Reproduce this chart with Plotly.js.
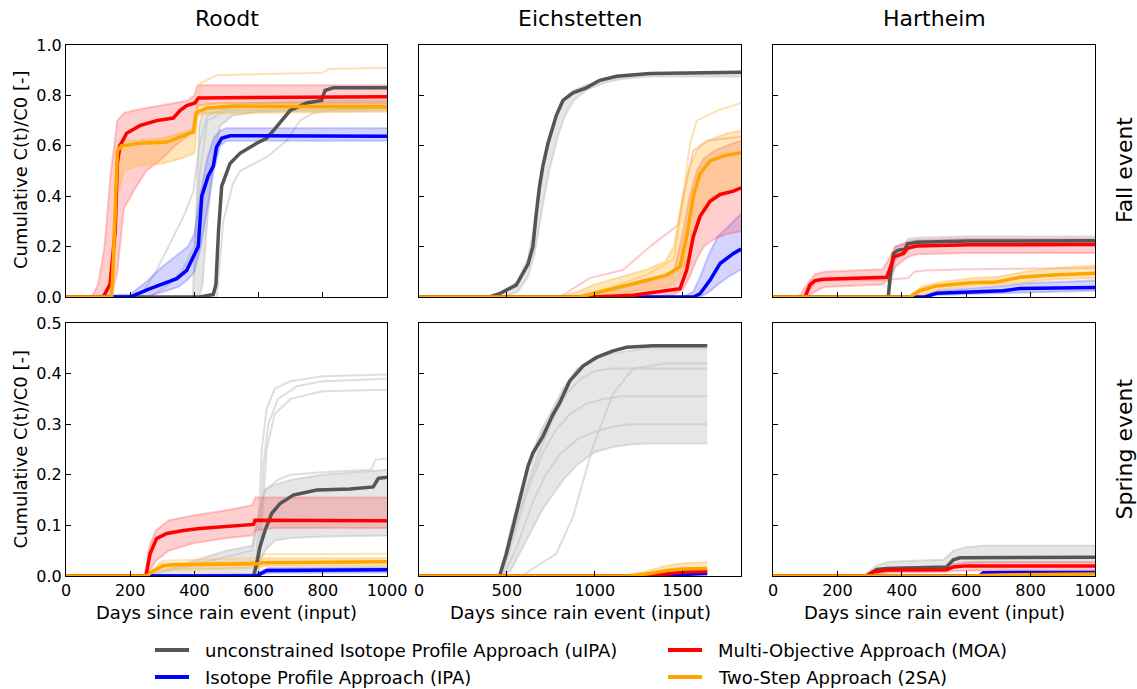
<!DOCTYPE html>
<html><head><meta charset="utf-8">
<script src="https://cdn.plot.ly/plotly-3.0.1.min.js"></script>
<style>html,body{margin:0;padding:0;background:#fff}</style>
</head><body><div id="chart" style="width:1137px;height:689px"></div>
<script>
// ---------------- DATA ----------------
const columnTitles = ['Roodt', 'Eichstetten', 'Hartheim'];
const rowTitles = ['Fall event', 'Spring event'];
const methodNames = ['unconstrained Isotope Profile Approach (uIPA)', 'Isotope Profile Approach (IPA)', 'Multi-Objective Approach (MOA)', 'Two-Step Approach (2SA)'];
const xTicksShort = [0, 200, 400, 600, 800, 1000];
const xTicksLong = [0, 500, 1000, 1500];

// Roodt - fall
const rfUipaDays = [0,417,459,467,475,485,511,542,594,625,646,698,750,796,807,833,1000];
const rfUipa     = [0,0,0.01,0.05,0.26,0.44,0.53,0.57,0.61,0.63,0.66,0.74,0.77,0.78,0.82,0.83,0.83];
const rfUipaBandDays = [0,395,405,415,425,440,460,480,520,600,800,1000];
const rfUipaHi   = [0,0,0.3,0.68,0.73,0.745,0.75,0.76,0.765,0.77,0.78,0.78];
const rfUipaLo   = [0,0,0,0,0.05,0.3,0.55,0.68,0.72,0.735,0.74,0.74];
const rfUipaEx1Days = [0,230,280,334,370,397,415,440,500,1000];
const rfUipaEx1  = [0,0,0.1,0.24,0.33,0.42,0.6,0.72,0.75,0.76];
const rfUipaEx2Days = [0,260,320,360,400,418,440,500,1000];
const rfUipaEx2  = [0,0,0.05,0.1,0.2,0.5,0.7,0.74,0.75];
const rfUipaEx3Days = [0,470,490,520,542,625,687,729,770,850,1000];
const rfUipaEx3  = [0,0,0.3,0.45,0.5,0.555,0.62,0.7,0.73,0.745,0.75];
const rfIpaDays  = [0,199,262,345,376,402,412,423,443,459,469,485,511,1000];
const rfIpa      = [0,0,0.033,0.073,0.106,0.17,0.2,0.4,0.48,0.52,0.595,0.63,0.64,0.638];
const rfIpaBandDays = [0,200,250,300,350,380,400,420,440,460,480,500,1000];
const rfIpaHi    = [0,0.01,0.06,0.12,0.17,0.2,0.25,0.42,0.55,0.63,0.66,0.67,0.67];
const rfIpaLo    = [0,0,0,0.02,0.04,0.07,0.1,0.2,0.35,0.5,0.6,0.62,0.62];
const rfMoaDays  = [0,116,137,153,160,168,189,230,282,334,355,376,402,412,1000];
const rfMoa      = [0,0,0.05,0.26,0.53,0.6,0.65,0.68,0.70,0.71,0.74,0.76,0.77,0.79,0.795];
const rfMoaBandDays = [0,80,100,120,140,160,180,210,250,300,340,380,400,410,500,1000];
const rfMoaHi    = [0,0,0.05,0.2,0.5,0.7,0.73,0.74,0.75,0.76,0.77,0.78,0.8,0.84,0.84,0.84];
const rfMoaLo    = [0,0,0,0,0,0.1,0.35,0.42,0.5,0.55,0.6,0.64,0.68,0.76,0.77,0.77];
const rfTsaDays  = [0,142,147,156,160,173,231,314,355,397,405,438,521,1000];
const rfTsa      = [0,0,0.13,0.40,0.58,0.60,0.61,0.615,0.635,0.655,0.73,0.75,0.757,0.755];
const rfTsaBandDays = [0,140,150,160,180,220,300,360,400,410,440,1000];
const rfTsaHi    = [0,0,0.3,0.6,0.62,0.62,0.63,0.65,0.67,0.76,0.77,0.77];
const rfTsaLo    = [0,0,0.1,0.4,0.5,0.52,0.53,0.55,0.57,0.72,0.73,0.735];
const rfTsaEx1Days = [0,140,160,180,300,400,420,470,800,820,1000];
const rfTsaEx1   = [0,0,0.55,0.6,0.63,0.66,0.85,0.88,0.89,0.905,0.91];

// Eichstetten - fall
const efUipaDays = [0,401,458,553,620,648,667,686,705,734,781,819,876,952,1028,1124,1313,1832];
const efUipa     = [0,0,0.013,0.047,0.13,0.2,0.33,0.44,0.52,0.61,0.72,0.78,0.81,0.83,0.86,0.876,0.887,0.892];
const efUipaBandDays = [0,420,470,560,620,660,700,740,790,830,880,950,1050,1150,1300,1832];
const efUipaHi   = [0,0,0.02,0.06,0.15,0.3,0.5,0.63,0.74,0.79,0.82,0.84,0.86,0.875,0.885,0.89];
const efUipaLo   = [0,0,0,0.02,0.08,0.18,0.35,0.5,0.64,0.72,0.78,0.82,0.85,0.865,0.875,0.875];
const efIpaDays  = [0,1561,1599,1656,1713,1789,1832];
const efIpa      = [0,0,0.013,0.067,0.133,0.173,0.19];
const efIpaBandDays = [0,1500,1560,1600,1650,1700,1760,1832];
const efIpaHi    = [0,0,0.02,0.08,0.17,0.24,0.28,0.33];
const efIpaLo    = [0,0,0,0,0.02,0.05,0.08,0.11];
const efMoaDays  = [0,990,1218,1485,1523,1561,1599,1656,1713,1789,1832];
const efMoa      = [0,0,0.007,0.033,0.107,0.24,0.32,0.38,0.407,0.42,0.433];
const efMoaBandDays = [0,900,1100,1300,1450,1500,1540,1580,1620,1680,1750,1832];
const efMoaHi    = [0,0,0.03,0.06,0.1,0.25,0.4,0.5,0.55,0.58,0.6,0.62];
const efMoaLo    = [0,0,0,0,0.01,0.03,0.08,0.15,0.2,0.23,0.25,0.26];
const efMoaEx1Days = [0,800,971,1160,1314,1474,1523,1561,1637,1832];
const efMoaEx1   = [0,0,0.075,0.107,0.2,0.286,0.46,0.58,0.62,0.636];
const efTsaDays  = [0,915,1028,1218,1409,1485,1523,1561,1599,1656,1732,1832];
const efTsa      = [0,0,0.02,0.053,0.087,0.12,0.24,0.40,0.49,0.54,0.56,0.573];
const efTsaBandDays = [0,780,900,1000,1100,1200,1300,1400,1450,1500,1540,1580,1620,1680,1750,1832];
const efTsaHi    = [0,0,0.02,0.05,0.07,0.09,0.11,0.14,0.2,0.4,0.52,0.58,0.61,0.63,0.65,0.66];
const efTsaLo    = [0,0,0,0,0.01,0.02,0.03,0.04,0.05,0.1,0.2,0.3,0.36,0.4,0.42,0.43];
const efTsaEx1Days = [0,900,1100,1300,1450,1500,1540,1580,1640,1700,1832];
const efTsaEx1   = [0,0,0.04,0.09,0.15,0.38,0.6,0.7,0.72,0.74,0.77];

// Hartheim - fall
const hfUipaDays = [0,358,365,374,389,410,417,445,612,1000];
const hfUipa     = [0,0,0.094,0.173,0.186,0.19,0.21,0.217,0.222,0.223];
const hfUipaBandDays = [0,355,365,380,410,420,450,600,1000];
const hfUipaHi   = [0,0,0.12,0.2,0.21,0.23,0.235,0.24,0.24];
const hfUipaLo   = [0,0,0.05,0.15,0.17,0.19,0.2,0.205,0.205];
const hfIpaDays  = [0,472,508,612,715,767,1000];
const hfIpa      = [0,0,0.015,0.021,0.025,0.034,0.038];
const hfIpaBandDays = [0,460,510,620,720,780,1000];
const hfIpaHi    = [0,0,0.025,0.035,0.045,0.055,0.065];
const hfIpaLo    = [0,0,0.008,0.012,0.016,0.02,0.025];
const hfMoaDays  = [0,99,115,130,156,353,365,376,405,417,445,612,1000];
const hfMoa      = [0,0,0.048,0.065,0.07,0.078,0.12,0.16,0.173,0.193,0.202,0.207,0.208];
const hfMoaBandDays = [0,80,100,130,160,340,360,380,400,420,450,600,1000];
const hfMoaHi    = [0,0,0.04,0.09,0.1,0.11,0.15,0.2,0.21,0.22,0.225,0.23,0.23];
const hfMoaLo    = [0,0,0,0.02,0.04,0.05,0.07,0.12,0.14,0.16,0.17,0.175,0.175];
const hfMoaEx1Days = [0,100,130,160,350,380,420,440,470,600,1000];
const hfMoaEx1   = [0,0,0.06,0.065,0.068,0.07,0.075,0.1,0.105,0.11,0.115];
const hfTsaDays  = [0,425,456,508,612,695,767,870,1000];
const hfTsa      = [0,0,0.025,0.044,0.057,0.06,0.078,0.087,0.094];
const hfTsaBandDays = [0,420,460,520,620,700,780,880,1000];
const hfTsaHi    = [0,0,0.04,0.06,0.075,0.08,0.1,0.115,0.125];
const hfTsaLo    = [0,0,0.01,0.03,0.045,0.05,0.06,0.07,0.075];

// Roodt - spring
const rsUipaDays = [0,584,594,604,620,641,667,708,781,885,957,973,1000];
const rsUipa     = [0,0,0.024,0.057,0.09,0.124,0.143,0.16,0.17,0.172,0.176,0.193,0.195];
const rsUipaBandDays = [0,250,400,500,580,600,620,650,700,800,1000];
const rsUipaHi   = [0,0,0.03,0.05,0.06,0.12,0.17,0.18,0.19,0.2,0.21];
const rsUipaLo   = [0,0,0,0,0,0.02,0.05,0.07,0.075,0.078,0.08];
const rsUipaEx1Days = [0,590,600,610,625,650,700,800,1000];
const rsUipaEx1  = [0,0,0.1,0.25,0.33,0.37,0.385,0.395,0.398];
const rsUipaEx2Days = [0,595,605,615,630,660,720,800,1000];
const rsUipaEx2  = [0,0,0.08,0.22,0.3,0.35,0.375,0.385,0.39];
const rsUipaEx3Days = [0,600,610,625,650,700,800,1000];
const rsUipaEx3  = [0,0,0.1,0.25,0.32,0.35,0.365,0.368];
const rsUipaEx4Days = [0,250,580,600,620,660,700,800,950,965,1000];
const rsUipaEx4  = [0,0,0.05,0.12,0.17,0.19,0.2,0.205,0.21,0.23,0.232];
const rsIpaDays  = [0,594,625,1000];
const rsIpa      = [0,0,0.011,0.0125];
const rsIpaBandDays = [0,260,590,630,1000];
const rsIpaHi    = [0,0,0.004,0.016,0.017];
const rsIpaLo    = [0,0,0,0.006,0.007];
const rsMoaDays  = [0,249,262,282,314,366,417,521,584,589,1000];
const rsMoa      = [0,0,0.044,0.074,0.084,0.09,0.094,0.098,0.102,0.11,0.109];
const rsMoaBandDays = [0,245,260,280,320,400,500,580,590,650,1000];
const rsMoaHi    = [0,0,0.06,0.09,0.11,0.12,0.13,0.14,0.155,0.155,0.155];
const rsMoaLo    = [0,0,0.01,0.03,0.05,0.065,0.075,0.08,0.09,0.095,0.095];
const rsTsaDays  = [0,251,272,303,334,594,615,1000];
const rsTsa      = [0,0,0.01,0.02,0.022,0.024,0.026,0.028];
const rsTsaBandDays = [0,250,300,600,620,1000];
const rsTsaHi    = [0,0,0.025,0.03,0.035,0.035];
const rsTsaLo    = [0,0,0.012,0.016,0.02,0.02];
const rsTsaEx1Days = [0,250,300,600,620,1000];
const rsTsaEx1   = [0,0,0.03,0.035,0.043,0.044];

// Eichstetten - spring
const esUipaDays = [0,458,497,544,582,620,648,705,762,800,857,933,1010,1104,1181,1332,1640];
const esUipa     = [0,0,0.044,0.11,0.164,0.217,0.243,0.276,0.319,0.342,0.385,0.415,0.432,0.445,0.452,0.455,0.455];
const esUipaBandDays = [0,460,520,580,640,700,760,820,900,1000,1100,1200,1300,1640];
const esUipaHi   = [0,0,0.09,0.17,0.24,0.29,0.33,0.37,0.41,0.43,0.44,0.445,0.45,0.45];
const esUipaLo   = [0,0,0.01,0.05,0.09,0.13,0.16,0.19,0.22,0.245,0.255,0.26,0.262,0.262];
const esUipaEx1Days = [0,480,560,640,720,800,900,1000,1100,1200,1640];
const esUipaEx1  = [0,0,0.06,0.14,0.2,0.24,0.27,0.285,0.295,0.3,0.3];
const esUipaEx2Days = [0,470,540,620,700,780,860,950,1050,1150,1640];
const esUipaEx2  = [0,0,0.08,0.17,0.24,0.29,0.32,0.34,0.35,0.355,0.355];
const esUipaEx3Days = [0,465,530,600,680,760,840,920,1000,1100,1640];
const esUipaEx3  = [0,0,0.08,0.16,0.24,0.31,0.36,0.39,0.405,0.41,0.41];
const esUipaEx4Days = [0,582,781,876,990,1104,1218,1400,1640];
const esUipaEx4  = [0,0,0.044,0.117,0.256,0.36,0.41,0.42,0.42];
const esIpaDays  = [0,1400,1500,1640];
const esIpa      = [0,0,0.003,0.005];
const esMoaDays  = [0,1300,1400,1500,1640];
const esMoa      = [0,0,0.004,0.008,0.009];
const esMoaBandDays = [0,1300,1400,1500,1640];
const esMoaHi    = [0,0,0.006,0.011,0.012];
const esMoaLo    = [0,0,0.002,0.004,0.005];
const esTsaDays  = [0,1200,1314,1409,1500,1640];
const esTsa      = [0,0,0.005,0.011,0.014,0.015];
const esTsaBandDays = [0,1150,1300,1400,1500,1640];
const esTsaHi    = [0,0,0.01,0.02,0.025,0.027];
const esTsaLo    = [0,0,0.002,0.005,0.008,0.009];

// Hartheim - spring
const hsUipaDays = [0,291,322,353,539,560,581,1000];
const hsUipa     = [0,0,0.013,0.015,0.018,0.032,0.036,0.037];
const hsUipaBandDays = [0,280,320,360,530,560,600,650,1000];
const hsUipaHi   = [0,0,0.02,0.028,0.032,0.05,0.057,0.06,0.06];
const hsUipaLo   = [0,0,0.005,0.008,0.01,0.02,0.025,0.028,0.028];
const hsIpaDays  = [0,640,653,1000];
const hsIpa      = [0,0,0.0066,0.007];
const hsMoaDays  = [0,291,312,353,539,560,600,1000];
const hsMoa      = [0,0,0.0085,0.012,0.0125,0.018,0.02,0.02];
const hsMoaBandDays = [0,280,320,360,530,560,600,1000];
const hsMoaHi    = [0,0,0.012,0.016,0.018,0.024,0.027,0.027];
const hsMoaLo    = [0,0,0.004,0.007,0.008,0.01,0.011,0.011];
const hsTsaDays  = [0,600,700,1000];
const hsTsa      = [0,0,0.002,0.004];

// ---------------- STYLE / BUILD ----------------
const W = 1137, H = 689;
const FONT = 'DejaVu Sans';
const MAIN = {uipa:'#555555', ipa:'#0000ff', moa:'#ff0000', tsa:'#ffa500'};
const FILL = {uipa:'rgba(200,200,200,0.45)', ipa:'rgba(90,90,255,0.26)', moa:'rgba(255,70,70,0.26)', tsa:'rgba(255,180,50,0.33)'};
const EDGE = {uipa:'rgba(195,195,195,0.55)', ipa:'rgba(100,100,255,0.33)', moa:'rgba(255,90,90,0.33)', tsa:'rgba(255,185,70,0.42)'};
const traces = [];
function ax(i){ return i === 1 ? '' : String(i); }
function band(p, days, lo, hi, key){
  const xa = 'x' + ax(p), ya = 'y' + ax(p);
  traces.push({type:'scatter', mode:'lines', x:days.concat(days.slice().reverse()), y:hi.concat(lo.slice().reverse()),
    xaxis:xa, yaxis:ya, fill:'toself', fillcolor:FILL[key], line:{width:0}, hoverinfo:'skip', showlegend:false});
  [hi, lo].forEach(v => traces.push({type:'scatter', mode:'lines', x:days, y:v, xaxis:xa, yaxis:ya,
    line:{color:EDGE[key], width:2}, hoverinfo:'skip', showlegend:false}));
}
function thin(p, days, vals, key){
  traces.push({type:'scatter', mode:'lines', x:days, y:vals, xaxis:'x'+ax(p), yaxis:'y'+ax(p),
    line:{color:EDGE[key], width:2}, hoverinfo:'skip', showlegend:false});
}
const mains = [];
function main(p, days, vals, key, name){
  mains.push({type:'scatter', mode:'lines', name:name, x:days, y:vals, xaxis:'x'+ax(p), yaxis:'y'+ax(p),
    line:{color:MAIN[key], width:3.5}, showlegend:false});
}
// panel 1: Roodt fall
band(1, rfUipaBandDays, rfUipaLo, rfUipaHi, 'uipa');
thin(1, rfUipaEx1Days, rfUipaEx1, 'uipa'); thin(1, rfUipaEx2Days, rfUipaEx2, 'uipa'); thin(1, rfUipaEx3Days, rfUipaEx3, 'uipa');
band(1, rfIpaBandDays, rfIpaLo, rfIpaHi, 'ipa');
band(1, rfMoaBandDays, rfMoaLo, rfMoaHi, 'moa');
band(1, rfTsaBandDays, rfTsaLo, rfTsaHi, 'tsa'); thin(1, rfTsaEx1Days, rfTsaEx1, 'tsa');
main(1, rfUipaDays, rfUipa, 'uipa', methodNames[0]); main(1, rfIpaDays, rfIpa, 'ipa', methodNames[1]);
main(1, rfMoaDays, rfMoa, 'moa', methodNames[2]); main(1, rfTsaDays, rfTsa, 'tsa', methodNames[3]);
// panel 2: Eichstetten fall
band(2, efUipaBandDays, efUipaLo, efUipaHi, 'uipa');
band(2, efIpaBandDays, efIpaLo, efIpaHi, 'ipa');
band(2, efMoaBandDays, efMoaLo, efMoaHi, 'moa'); thin(2, efMoaEx1Days, efMoaEx1, 'moa');
band(2, efTsaBandDays, efTsaLo, efTsaHi, 'tsa'); thin(2, efTsaEx1Days, efTsaEx1, 'tsa');
main(2, efUipaDays, efUipa, 'uipa', methodNames[0]); main(2, efIpaDays, efIpa, 'ipa', methodNames[1]);
main(2, efMoaDays, efMoa, 'moa', methodNames[2]); main(2, efTsaDays, efTsa, 'tsa', methodNames[3]);
// panel 3: Hartheim fall
band(3, hfUipaBandDays, hfUipaLo, hfUipaHi, 'uipa');
band(3, hfIpaBandDays, hfIpaLo, hfIpaHi, 'ipa');
band(3, hfMoaBandDays, hfMoaLo, hfMoaHi, 'moa'); thin(3, hfMoaEx1Days, hfMoaEx1, 'moa');
band(3, hfTsaBandDays, hfTsaLo, hfTsaHi, 'tsa');
main(3, hfUipaDays, hfUipa, 'uipa', methodNames[0]); main(3, hfIpaDays, hfIpa, 'ipa', methodNames[1]);
main(3, hfMoaDays, hfMoa, 'moa', methodNames[2]); main(3, hfTsaDays, hfTsa, 'tsa', methodNames[3]);
// panel 4: Roodt spring
band(4, rsUipaBandDays, rsUipaLo, rsUipaHi, 'uipa');
thin(4, rsUipaEx1Days, rsUipaEx1, 'uipa'); thin(4, rsUipaEx2Days, rsUipaEx2, 'uipa');
thin(4, rsUipaEx3Days, rsUipaEx3, 'uipa'); thin(4, rsUipaEx4Days, rsUipaEx4, 'uipa');
band(4, rsIpaBandDays, rsIpaLo, rsIpaHi, 'ipa');
band(4, rsMoaBandDays, rsMoaLo, rsMoaHi, 'moa');
band(4, rsTsaBandDays, rsTsaLo, rsTsaHi, 'tsa'); thin(4, rsTsaEx1Days, rsTsaEx1, 'tsa');
main(4, rsUipaDays, rsUipa, 'uipa', methodNames[0]); main(4, rsIpaDays, rsIpa, 'ipa', methodNames[1]);
main(4, rsMoaDays, rsMoa, 'moa', methodNames[2]); main(4, rsTsaDays, rsTsa, 'tsa', methodNames[3]);
// panel 5: Eichstetten spring
band(5, esUipaBandDays, esUipaLo, esUipaHi, 'uipa');
thin(5, esUipaEx1Days, esUipaEx1, 'uipa'); thin(5, esUipaEx2Days, esUipaEx2, 'uipa');
thin(5, esUipaEx3Days, esUipaEx3, 'uipa'); thin(5, esUipaEx4Days, esUipaEx4, 'uipa');
band(5, esMoaBandDays, esMoaLo, esMoaHi, 'moa');
band(5, esTsaBandDays, esTsaLo, esTsaHi, 'tsa');
main(5, esUipaDays, esUipa, 'uipa', methodNames[0]); main(5, esIpaDays, esIpa, 'ipa', methodNames[1]);
main(5, esMoaDays, esMoa, 'moa', methodNames[2]); main(5, esTsaDays, esTsa, 'tsa', methodNames[3]);
// panel 6: Hartheim spring
band(6, hsUipaBandDays, hsUipaLo, hsUipaHi, 'uipa');
band(6, hsMoaBandDays, hsMoaLo, hsMoaHi, 'moa');
main(6, hsUipaDays, hsUipa, 'uipa', methodNames[0]); main(6, hsIpaDays, hsIpa, 'ipa', methodNames[1]);
main(6, hsMoaDays, hsMoa, 'moa', methodNames[2]); main(6, hsTsaDays, hsTsa, 'tsa', methodNames[3]);

// ---------------- LAYOUT ----------------
const xDom = [[66/W, 387/W], [419/W, 741/W], [773/W, 1095/W]];
const yDom = [[1-297/H, 1-45/H], [1-576/H, 1-323/H]];
const xRange = [[0, 1000], [0, 1832], [0, 1000]];
const common = {showline:true, linecolor:'#000', linewidth:1, mirror:true, ticks:'inside', ticklen:5, tickwidth:1,
  tickcolor:'#000', showgrid:false, zeroline:false, tickfont:{family:FONT, size:16, color:'#000'}, fixedrange:true};
const layout = {width:W, height:H, margin:{l:0, r:0, t:0, b:0}, paper_bgcolor:'#fff', plot_bgcolor:'#fff',
  showlegend:false, font:{family:FONT, color:'#000'}, annotations:[], shapes:[]};
for (let r = 0; r < 2; r++) for (let c = 0; c < 3; c++) {
  const i = r*3 + c + 1, s = ax(i);
  layout['xaxis'+s] = Object.assign({}, common, {domain:xDom[c], range:xRange[c], anchor:'y'+s,
    tickvals: c === 1 ? xTicksLong : xTicksShort, showticklabels: r === 1});
  layout['yaxis'+s] = Object.assign({}, common, {domain:yDom[r], range: r === 0 ? [0, 1] : [0, 0.5], anchor:'x'+s,
    dtick: r === 0 ? 0.2 : 0.1, tick0:0, tickformat:'.1f', showticklabels: c === 0});
}
const ann = layout.annotations;
const colCenters = [226.5, 580, 934];
columnTitles.forEach((t, c) => ann.push({text:t, xref:'paper', yref:'paper', x:colCenters[c]/W, y:1-18/H,
  xanchor:'center', yanchor:'middle', showarrow:false, font:{family:FONT, size:22, color:'#000'}}));
const rowCenters = [170, 449.5];
rowTitles.forEach((t, r) => ann.push({text:t, xref:'paper', yref:'paper', x:1124/W, y:1-rowCenters[r]/H, textangle:-90,
  xanchor:'center', yanchor:'middle', showarrow:false, font:{family:FONT, size:22, color:'#000'}}));
rowCenters.forEach(rc => ann.push({text:'Cumulative C(t)/C0 [-]', xref:'paper', yref:'paper', x:20/W, y:1-rc/H, textangle:-90,
  xanchor:'center', yanchor:'middle', showarrow:false, font:{family:FONT, size:18, color:'#000'}}));
colCenters.forEach(cc => ann.push({text:'Days since rain event (input)', xref:'paper', yref:'paper', x:cc/W, y:1-612/H,
  xanchor:'center', yanchor:'middle', showarrow:false, font:{family:FONT, size:18, color:'#000'}}));
// legend (manual, two columns)
const legPos = [[155, 650], [155, 677], [668, 650], [668, 677]];
const legKeys = ['uipa', 'ipa', 'moa', 'tsa'];
legKeys.forEach((k, j) => {
  const [lx, ly] = legPos[j];
  layout.shapes.push({type:'line', xref:'paper', yref:'paper', x0:lx/W, x1:(lx+34)/W, y0:1-ly/H, y1:1-ly/H,
    line:{color:MAIN[k], width:4}});
  ann.push({text:methodNames[j], xref:'paper', yref:'paper', x:(lx+48)/W, y:1-ly/H, xanchor:'left', yanchor:'middle',
    showarrow:false, font:{family:FONT, size:18, color:'#000'}});
});
Plotly.newPlot('chart', traces.concat(mains), layout, {staticPlot:true, displayModeBar:false});
</script></body></html>
